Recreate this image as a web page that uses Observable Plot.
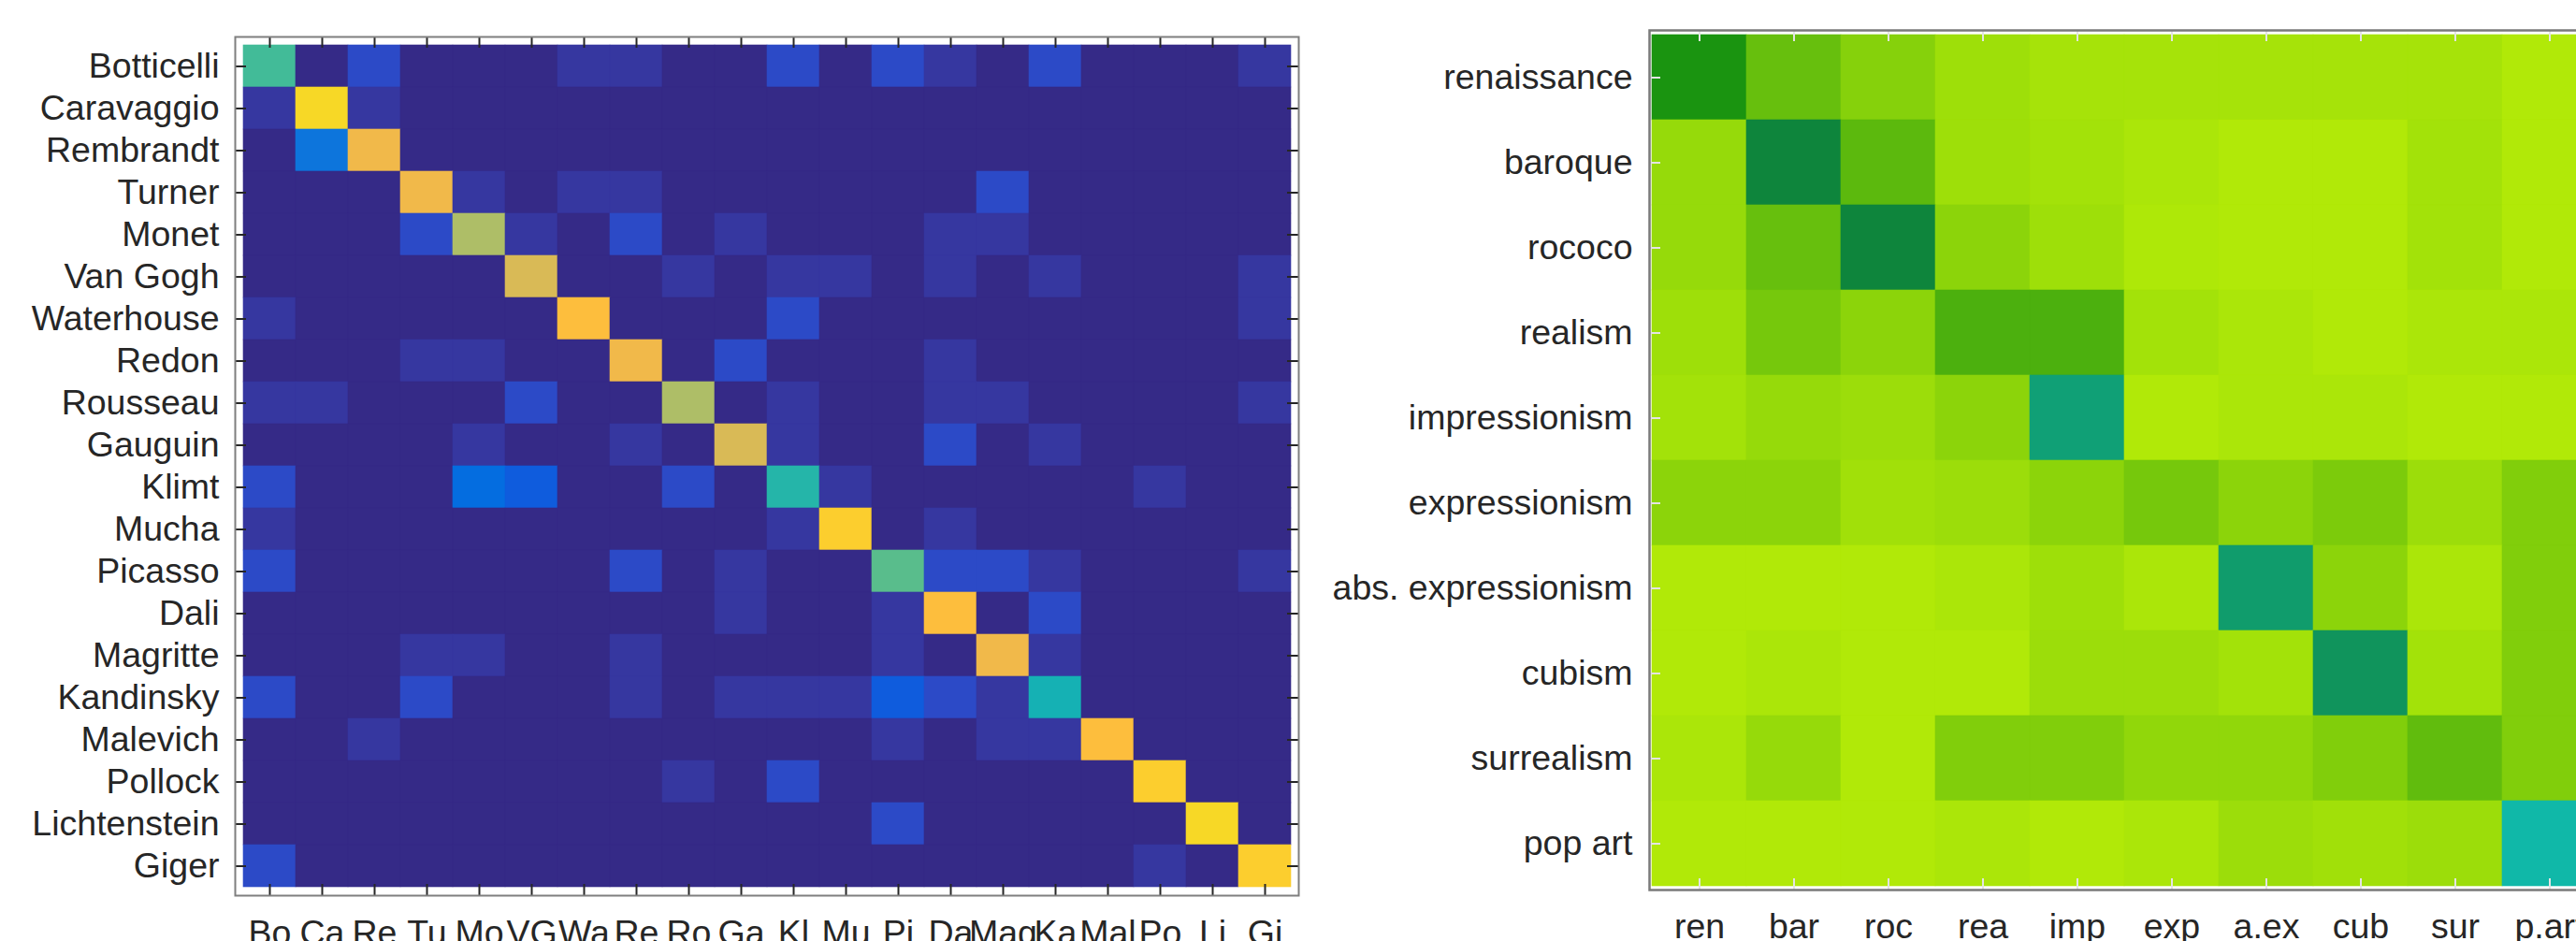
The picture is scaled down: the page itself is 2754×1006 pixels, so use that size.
<!DOCTYPE html>
<html><head><meta charset="utf-8">
<script src="https://cdn.jsdelivr.net/npm/d3@7"></script>
<script src="https://cdn.jsdelivr.net/npm/@observablehq/plot@0.6"></script>
<style>
html,body{margin:0;padding:0;background:#fff;overflow:hidden;width:2754px;height:1006px;}
#wrap{position:relative;width:2754px;height:1006px;overflow:hidden;background:#fff;}
#left,#right{position:absolute;top:0;width:1400px;height:1006px;}
#left{left:0;} #right{left:1400px;}
svg{max-width:none !important;}
</style></head><body>
<div id="wrap"><div id="left"></div><div id="right"></div></div>
<script>
// ---------- data: painters confusion counts ----------
const painters = ["Botticelli","Caravaggio","Rembrandt","Turner","Monet","Van Gogh","Waterhouse","Redon","Rousseau","Gauguin","Klimt","Mucha","Picasso","Dali","Magritte","Kandinsky","Malevich","Pollock","Lichtenstein","Giger"];
const painterAbbr = ["Bo","Ca","Re","Tu","Mo","VG","Wa","Re","Ro","Ga","Kl","Mu","Pi","Da","Mag","Ka","Mal","Po","Li","Gi"];
const painterCounts = [
  [13,0,2,0,0,0,1,1,0,0, 2,0,2,1,0,2,0,0,0,1],
  [1,23,1,0,0,0,0,0,0,0, 0,0,0,0,0,0,0,0,0,0],
  [0,5,20,0,0,0,0,0,0,0, 0,0,0,0,0,0,0,0,0,0],
  [0,0,0,20,1,0,1,1,0,0, 0,0,0,0,2,0,0,0,0,0],
  [0,0,0,2,17,1,0,2,0,1, 0,0,0,1,1,0,0,0,0,0],
  [0,0,0,0,0,19,0,0,1,0, 1,1,0,1,0,1,0,0,0,1],
  [1,0,0,0,0,0,21,0,0,0, 2,0,0,0,0,0,0,0,0,1],
  [0,0,0,1,1,0,0,20,0,2, 0,0,0,1,0,0,0,0,0,0],
  [1,1,0,0,0,2,0,0,17,0, 1,0,0,1,1,0,0,0,0,1],
  [0,0,0,0,1,0,0,1,0,19, 1,0,0,2,0,1,0,0,0,0],
  [2,0,0,0,4,3,0,0,2,0, 12,1,0,0,0,0,0,1,0,0],
  [1,0,0,0,0,0,0,0,0,0, 1,22,0,1,0,0,0,0,0,0],
  [2,0,0,0,0,0,0,2,0,1, 0,0,14,2,2,1,0,0,0,1],
  [0,0,0,0,0,0,0,0,0,1, 0,0,1,21,0,2,0,0,0,0],
  [0,0,0,1,1,0,0,1,0,0, 0,0,1,0,20,1,0,0,0,0],
  [2,0,0,2,0,0,0,1,0,1, 1,1,3,2,1,11,0,0,0,0],
  [0,0,1,0,0,0,0,0,0,0, 0,0,1,0,1,1,21,0,0,0],
  [0,0,0,0,0,0,0,0,1,0, 2,0,0,0,0,0,0,22,0,0],
  [0,0,0,0,0,0,0,0,0,0, 0,0,2,0,0,0,0,0,23,0],
  [2,0,0,0,0,0,0,0,0,0, 0,0,0,0,0,0,0,1,0,22]
];
const painterMax = 25;

// ---------- data: art styles confusion scores ----------
const styles = ["renaissance","baroque","rococo","realism","impressionism","expressionism","abs. expressionism","cubism","surrealism","pop art"];
const styleAbbr = ["ren","bar","roc","rea","imp","exp","a.ex","cub","sur","p.art"];
const styleScores = [
  [35, 15, 9, 4.5, 3, 3, 3, 3, 3, 1],
  [6, 45, 17, 4.5, 3.5, 2, 1, 1, 3.5, 1],
  [6, 15, 45, 8, 4.5, 1.5, 1, 1, 3.5, 1],
  [4.5, 12, 8, 20, 20, 3.5, 2, 1, 2, 2],
  [3.5, 6, 5, 8, 63, 1, 2, 2, 1, 1],
  [8, 8, 4, 5, 8, 12, 8, 11, 5, 10],
  [1, 1, 1, 2, 4.5, 2, 60, 8, 2, 10],
  [1, 2, 1, 1, 5, 5, 3.5, 55, 3.5, 10],
  [2, 6, 1, 10, 10, 7, 7, 10, 16, 10],
  [1, 1, 1, 2, 1, 2, 5, 4, 5, 80]
];
const styleMax = 80;

// ---------- colormaps ----------
const parula = ["#352a87","#363093","#3637a0","#353dad","#3243ba","#2c4ac7","#2053d4","#0f5cdd","#0363e1","#0268e1","#046de0","#0871de","#0d75dc","#1079da","#127dd8","#1481d6","#1485d4","#1389d3","#108ed2","#0c93d2","#0998d1","#079ccf","#06a0cd","#06a4ca","#06a7c6","#07a9c2","#0aacbe","#0faeb9","#15b1b4","#1db3af","#25b5a9","#2eb7a4","#38b99e","#42bb98","#4dbc92","#59bd8c","#65be86","#71bf80","#7cbf7b","#87bf77","#92bf73","#9cbf6f","#a5be6b","#aebe67","#b7bd64","#c0bc60","#c8bc5d","#d1bb59","#d9ba56","#e1b952","#e9b94e","#f1b94a","#f8bb44","#fdbe3d","#ffc337","#fec832","#fcce2e","#fad32a","#f7d826","#f5de21","#f5e41d","#f5eb18","#f6f313","#f9fb0e"];
const greenStops = [0, 20, 35, 45, 55, 63, 80];
const greenColors = ["#b6ec08","#4cb00e","#1a9410","#0e853c","#10945c","#10a076","#10b8a8"];
const greenScale = d3.scaleLinear().domain(greenStops).range(greenColors);

const font = "'Liberation Sans', Arial, Helvetica, sans-serif";
const fs = 37.5;

// ---------- left chart ----------
{
  const W = 1400, H = 1006, ml = 251, mr = 12, mt = 39, mb = 49;
  const pw = W - ml - mr, ph = H - mt - mb, tk = 12;
  const data = painterCounts.flatMap((row, i) => row.map((v, j) => ({actual: painters[i], predicted: painters[j], v})));
  const chart = Plot.plot({
    width: W, height: H,
    marginLeft: ml, marginRight: mr, marginTop: mt, marginBottom: mb,
    style: {fontFamily: font, fontSize: fs + "px", color: "#262626", background: "white", maxWidth: "none", overflow: "visible"},
    x: {domain: painters, padding: 0, axis: null},
    y: {domain: painters, padding: 0, axis: null},
    color: {type: "linear", domain: [0, painterMax], interpolate: (t) => parula[Math.max(0, Math.min(63, Math.floor(t * 64)))]},
    marks: [
      Plot.cell(data, {x: "predicted", y: "actual", fill: "v", stroke: "v", strokeWidth: 0.6, inset: 0}),
      Plot.ruleX(painters, {x: (d) => d, stroke: "#262626", strokeWidth: 2, insetBottom: ph - tk}),
      Plot.ruleX(painters, {x: (d) => d, stroke: "#262626", strokeWidth: 2, insetTop: ph - tk}),
      Plot.ruleY(painters, {y: (d) => d, stroke: "#262626", strokeWidth: 2, insetRight: pw - tk}),
      Plot.ruleY(painters, {y: (d) => d, stroke: "#262626", strokeWidth: 2, insetLeft: pw - tk}),
      Plot.frame({stroke: "#7f7f7f", strokeWidth: 2}),
      Plot.axisX({anchor: "bottom", tickSize: 0, tickPadding: 26, label: null, fontSize: fs,
        tickFormat: (d) => painterAbbr[painters.indexOf(d)]}),
      Plot.axisY({anchor: "left", tickSize: 0, tickPadding: 17, label: null, fontSize: fs})
    ]
  });
  document.getElementById("left").appendChild(chart);
}

// ---------- right chart ----------
{
  const W = 1400, H = 1006, ml = 363, mr = 22, mt = 32, mb = 55;
  const pw = W - ml - mr, ph = H - mt - mb, tk = 12;
  const data = styleScores.flatMap((row, i) => row.map((v, j) => ({actual: styles[i], predicted: styles[j], v})));
  const chart = Plot.plot({
    width: W, height: H,
    marginLeft: ml, marginRight: mr, marginTop: mt, marginBottom: mb,
    style: {fontFamily: font, fontSize: fs + "px", color: "#262626", background: "white", maxWidth: "none", overflow: "visible"},
    x: {domain: styles, padding: 0, axis: null},
    y: {domain: styles, padding: 0, axis: null},
    color: {type: "linear", domain: [0, styleMax], interpolate: (t) => greenScale(t * styleMax)},
    marks: [
      Plot.cell(data, {x: "predicted", y: "actual", fill: "v", stroke: "v", strokeWidth: 0.6, inset: 0}),
      Plot.ruleX(styles, {x: (d) => d, stroke: "#e4e4e4", strokeWidth: 2, insetBottom: ph - tk}),
      Plot.ruleX(styles, {x: (d) => d, stroke: "#e4e4e4", strokeWidth: 2, insetTop: ph - tk}),
      Plot.ruleY(styles, {y: (d) => d, stroke: "#e4e4e4", strokeWidth: 2, insetRight: pw - tk}),
      Plot.ruleY(styles, {y: (d) => d, stroke: "#e4e4e4", strokeWidth: 2, insetLeft: pw - tk}),
      Plot.frame({stroke: "#7a7a7a", strokeWidth: 2.5}),
      Plot.axisX({anchor: "bottom", tickSize: 0, tickPadding: 25, label: null, fontSize: fs,
        tickFormat: (d) => styleAbbr[styles.indexOf(d)]}),
      Plot.axisY({anchor: "left", tickSize: 0, tickPadding: 18, label: null, fontSize: fs})
    ]
  });
  document.getElementById("right").appendChild(chart);
}
</script>
</body></html>
